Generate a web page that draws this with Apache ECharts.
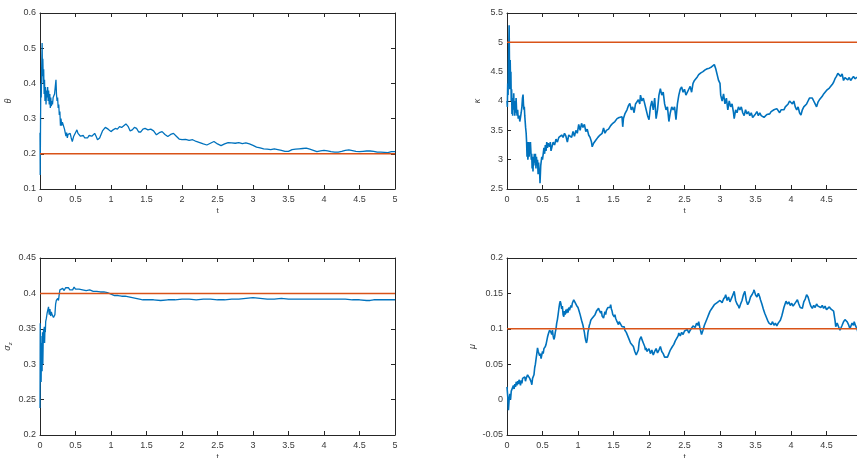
<!DOCTYPE html>
<html>
<head>
<meta charset="utf-8">
<script src="https://cdn.jsdelivr.net/npm/echarts@6/dist/echarts.min.js"></script>
<style>
html,body{margin:0;padding:0;background:#fff;}
#chart{width:857px;height:458px;}
</style>
</head>
<body>
<div id="chart"></div>
<script>
// ---- Data ----
const xTicks = [0,0.5,1,1.5,2,2.5,3,3.5,4,4.5,5];

const thetaTrue = 0.2;
const thetaData = [[0,0.26],[0.003,0.14],[0.008,0.3],[0.012,0.4],[0.018,0.36],[0.024,0.45],[0.03,0.515],[0.035,0.42],[0.04,0.47],[0.047,0.40],[0.052,0.44],[0.058,0.37],[0.064,0.41],[0.07,0.35],[0.078,0.39],[0.085,0.34],[0.092,0.38],[0.1,0.36],[0.108,0.39],[0.115,0.35],[0.122,0.38],[0.13,0.34],[0.138,0.37],[0.145,0.33],[0.152,0.36],[0.16,0.335],[0.168,0.35],[0.176,0.34],[0.185,0.36],[0.195,0.355],[0.205,0.37],[0.215,0.39],[0.225,0.41],[0.232,0.37],[0.24,0.35],[0.248,0.36],[0.256,0.33],[0.264,0.34],[0.272,0.31],[0.28,0.32],[0.288,0.28],[0.296,0.30],[0.305,0.28],[0.315,0.29],[0.325,0.285],[0.335,0.295],[0.345,0.27],[0.355,0.26],[0.365,0.25],[0.375,0.26],[0.385,0.245],[0.395,0.255],[0.41,0.25],[0.425,0.258],[0.44,0.245],[0.455,0.235],[0.465,0.23],[0.475,0.25],[0.49,0.255],[0.505,0.262],[0.52,0.268],[0.535,0.258],[0.55,0.262],[0.57,0.25],[0.59,0.245],[0.61,0.252],[0.63,0.245],[0.65,0.25],[0.67,0.245],[0.69,0.252],[0.71,0.248],[0.73,0.25],[0.75,0.255],[0.77,0.258],[0.79,0.25],[0.81,0.24],[0.825,0.236],[0.84,0.245],[0.86,0.255],[0.88,0.265],[0.9,0.27],[0.92,0.275],[0.94,0.277],[0.96,0.27],[0.98,0.265],[1.0,0.263],[1.03,0.268],[1.06,0.272],[1.09,0.27],[1.12,0.277],[1.15,0.275],[1.18,0.28],[1.21,0.285],[1.24,0.278],[1.27,0.265],[1.3,0.268],[1.33,0.275],[1.36,0.272],[1.39,0.262],[1.42,0.262],[1.45,0.27],[1.48,0.272],[1.52,0.268],[1.56,0.27],[1.6,0.265],[1.64,0.254],[1.68,0.26],[1.72,0.263],[1.76,0.255],[1.8,0.249],[1.84,0.255],[1.88,0.258],[1.92,0.25],[1.96,0.242],[2.0,0.24],[2.05,0.241],[2.1,0.238],[2.15,0.24],[2.2,0.235],[2.25,0.232],[2.3,0.228],[2.35,0.225],[2.4,0.23],[2.45,0.235],[2.5,0.228],[2.55,0.223],[2.6,0.228],[2.65,0.232],[2.7,0.231],[2.75,0.23],[2.8,0.232],[2.85,0.229],[2.9,0.231],[2.95,0.228],[3.0,0.224],[3.05,0.219],[3.1,0.217],[3.15,0.214],[3.2,0.213],[3.25,0.212],[3.3,0.214],[3.35,0.212],[3.4,0.21],[3.45,0.207],[3.5,0.207],[3.55,0.212],[3.6,0.213],[3.65,0.214],[3.7,0.215],[3.75,0.216],[3.8,0.213],[3.85,0.21],[3.9,0.206],[3.95,0.208],[4.0,0.21],[4.05,0.208],[4.1,0.206],[4.15,0.205],[4.2,0.205],[4.25,0.207],[4.3,0.21],[4.35,0.211],[4.4,0.209],[4.45,0.207],[4.5,0.206],[4.55,0.207],[4.6,0.208],[4.65,0.208],[4.7,0.207],[4.75,0.205],[4.8,0.205],[4.85,0.204],[4.9,0.203],[4.95,0.206],[5.0,0.206]];

const kappaTrue = 5;
const kappaData = [[0,4.0],[0.005,3.9],[0.01,4.3],[0.015,4.1],[0.02,4.6],[0.025,4.9],[0.03,5.29],[0.035,4.6],[0.04,4.2],[0.045,4.7],[0.05,4.3],[0.055,4.5],[0.06,4.0],[0.065,4.2],[0.07,3.78],[0.075,3.95],[0.08,3.75],[0.085,4.05],[0.09,3.9],[0.095,4.13],[0.1,3.85],[0.105,4.0],[0.11,3.75],[0.115,3.95],[0.12,3.8],[0.128,4.05],[0.135,3.85],[0.142,3.75],[0.15,3.85],[0.158,3.7],[0.165,3.68],[0.172,3.75],[0.18,3.65],[0.19,3.72],[0.2,3.8],[0.21,3.9],[0.218,4.05],[0.226,4.11],[0.232,3.95],[0.238,3.85],[0.244,3.9],[0.25,3.75],[0.256,3.78],[0.262,3.55],[0.27,3.45],[0.276,3.3],[0.282,3.05],[0.288,3.3],[0.294,3.0],[0.3,3.1],[0.306,3.3],[0.312,3.05],[0.318,3.25],[0.324,3.1],[0.33,3.3],[0.336,3.15],[0.342,3.0],[0.348,3.1],[0.354,2.85],[0.36,3.05],[0.366,2.8],[0.372,3.0],[0.378,2.9],[0.385,3.1],[0.392,2.95],[0.4,3.1],[0.408,2.85],[0.415,3.05],[0.422,2.9],[0.43,3.0],[0.438,2.75],[0.445,2.95],[0.452,2.8],[0.458,2.85],[0.465,2.6],[0.47,2.57],[0.475,2.9],[0.48,2.95],[0.49,3.05],[0.5,3.0],[0.51,3.1],[0.52,3.2],[0.53,3.1],[0.54,3.25],[0.55,3.15],[0.56,3.3],[0.57,3.2],[0.58,3.28],[0.59,3.3],[0.6,3.22],[0.61,3.3],[0.62,3.15],[0.63,3.2],[0.65,3.3],[0.67,3.25],[0.69,3.35],[0.71,3.3],[0.73,3.38],[0.75,3.35],[0.77,3.42],[0.79,3.38],[0.81,3.45],[0.83,3.4],[0.85,3.3],[0.87,3.42],[0.89,3.45],[0.91,3.38],[0.93,3.48],[0.95,3.4],[0.97,3.5],[0.99,3.45],[1.01,3.6],[1.03,3.5],[1.05,3.62],[1.07,3.55],[1.09,3.6],[1.11,3.48],[1.13,3.52],[1.15,3.42],[1.17,3.38],[1.19,3.3],[1.2,3.22],[1.22,3.28],[1.25,3.33],[1.28,3.38],[1.31,3.42],[1.34,3.45],[1.36,3.54],[1.38,3.45],[1.4,3.5],[1.43,3.52],[1.46,3.58],[1.49,3.62],[1.52,3.65],[1.55,3.7],[1.58,3.72],[1.6,3.75],[1.62,3.73],[1.63,3.56],[1.64,3.7],[1.66,3.78],[1.69,3.85],[1.71,3.92],[1.73,3.96],[1.75,3.85],[1.77,3.9],[1.79,3.8],[1.81,3.95],[1.83,3.92],[1.85,4.02],[1.87,3.95],[1.88,4.1],[1.9,4.0],[1.92,4.05],[1.94,3.95],[1.96,3.85],[1.98,3.75],[2.0,3.68],[2.02,3.9],[2.04,4.0],[2.06,3.85],[2.08,4.05],[2.1,3.7],[2.12,3.85],[2.14,4.1],[2.16,4.21],[2.18,4.1],[2.2,4.15],[2.22,3.95],[2.24,3.85],[2.26,3.9],[2.28,3.65],[2.3,3.8],[2.32,3.9],[2.34,3.85],[2.36,3.9],[2.38,3.68],[2.4,3.95],[2.42,4.1],[2.44,4.2],[2.46,4.24],[2.48,4.15],[2.5,4.2],[2.52,4.1],[2.54,4.07],[2.56,4.2],[2.58,4.25],[2.6,4.15],[2.62,4.3],[2.64,4.35],[2.66,4.38],[2.68,4.41],[2.7,4.45],[2.73,4.48],[2.76,4.5],[2.79,4.53],[2.82,4.55],[2.85,4.56],[2.88,4.58],[2.9,4.55],[2.92,4.62],[2.94,4.55],[2.96,4.45],[2.98,4.35],[3.0,4.3],[3.01,4.1],[3.03,4.0],[3.05,4.12],[3.07,3.95],[3.09,4.05],[3.11,3.85],[3.13,4.0],[3.15,3.9],[3.17,3.95],[3.19,3.8],[3.2,3.7],[3.22,3.85],[3.24,3.8],[3.26,3.9],[3.28,3.85],[3.3,3.9],[3.32,3.8],[3.34,3.75],[3.36,3.85],[3.38,3.78],[3.4,3.82],[3.42,3.75],[3.44,3.8],[3.46,3.72],[3.48,3.7],[3.5,3.78],[3.52,3.82],[3.54,3.75],[3.56,3.8],[3.58,3.75],[3.6,3.73],[3.62,3.72],[3.64,3.75],[3.66,3.77],[3.68,3.8],[3.7,3.78],[3.72,3.82],[3.74,3.8],[3.76,3.85],[3.78,3.82],[3.8,3.87],[3.82,3.85],[3.84,3.8],[3.86,3.85],[3.88,3.88],[3.9,3.85],[3.92,3.9],[3.94,3.88],[3.96,3.95],[3.98,4.0],[4.0,4.02],[4.02,3.95],[4.04,4.0],[4.06,3.9],[4.08,3.85],[4.1,3.9],[4.12,3.8],[4.14,3.76],[4.16,3.85],[4.18,3.9],[4.2,3.92],[4.22,3.95],[4.24,4.0],[4.26,4.05],[4.28,4.08],[4.3,4.05],[4.32,4.0],[4.34,3.95],[4.36,3.9],[4.38,3.98],[4.4,4.02],[4.42,4.05],[4.44,4.08],[4.46,4.12],[4.48,4.15],[4.5,4.18],[4.52,4.2],[4.54,4.22],[4.56,4.25],[4.58,4.28],[4.6,4.32],[4.62,4.38],[4.64,4.42],[4.66,4.47],[4.68,4.45],[4.7,4.42],[4.72,4.46],[4.74,4.35],[4.76,4.4],[4.78,4.38],[4.8,4.36],[4.82,4.4],[4.84,4.35],[4.86,4.38],[4.88,4.42],[4.9,4.38],[4.92,4.4],[4.94,4.41],[4.96,4.36],[4.98,4.4],[5.0,4.42]];

const sigmaTrue = 0.4;
const sigmaData = [[0,0.238],[0.003,0.358],[0.008,0.30],[0.012,0.34],[0.016,0.275],[0.02,0.31],[0.025,0.33],[0.03,0.29],[0.035,0.345],[0.04,0.30],[0.045,0.33],[0.05,0.35],[0.055,0.33],[0.06,0.353],[0.065,0.33],[0.07,0.35],[0.075,0.345],[0.08,0.36],[0.09,0.365],[0.1,0.372],[0.11,0.37],[0.12,0.381],[0.13,0.37],[0.14,0.378],[0.15,0.368],[0.16,0.374],[0.17,0.37],[0.18,0.372],[0.19,0.366],[0.2,0.365],[0.21,0.37],[0.22,0.385],[0.23,0.39],[0.24,0.388],[0.25,0.393],[0.26,0.39],[0.27,0.398],[0.28,0.405],[0.3,0.403],[0.32,0.407],[0.34,0.404],[0.36,0.408],[0.38,0.406],[0.4,0.408],[0.42,0.405],[0.44,0.407],[0.46,0.405],[0.48,0.409],[0.5,0.406],[0.55,0.406],[0.6,0.405],[0.65,0.404],[0.7,0.405],[0.75,0.403],[0.8,0.403],[0.85,0.402],[0.9,0.402],[0.95,0.401],[1.0,0.399],[1.05,0.397],[1.1,0.397],[1.15,0.396],[1.2,0.396],[1.25,0.395],[1.3,0.394],[1.35,0.393],[1.4,0.392],[1.45,0.391],[1.5,0.391],[1.6,0.391],[1.7,0.39],[1.8,0.391],[1.9,0.391],[2.0,0.392],[2.1,0.392],[2.2,0.391],[2.3,0.392],[2.4,0.392],[2.5,0.391],[2.6,0.391],[2.7,0.392],[2.8,0.392],[2.9,0.393],[3.0,0.394],[3.1,0.393],[3.2,0.392],[3.3,0.392],[3.4,0.393],[3.5,0.392],[3.6,0.392],[3.7,0.392],[3.8,0.392],[3.9,0.392],[4.0,0.392],[4.1,0.392],[4.2,0.392],[4.3,0.392],[4.4,0.391],[4.5,0.391],[4.6,0.39],[4.65,0.39],[4.7,0.391],[4.8,0.391],[4.9,0.391],[5.0,0.391]];

const muTrue = 0.1;
const muData = [[0,0.018],[0.01,0.005],[0.02,-0.015],[0.03,0.0],[0.04,0.008],[0.05,0.0],[0.06,0.012],[0.07,0.014],[0.08,0.01],[0.09,0.02],[0.1,0.015],[0.11,0.022],[0.12,0.018],[0.13,0.025],[0.14,0.02],[0.15,0.026],[0.16,0.022],[0.17,0.028],[0.18,0.025],[0.19,0.02],[0.2,0.027],[0.21,0.023],[0.22,0.03],[0.235,0.028],[0.25,0.032],[0.26,0.026],[0.27,0.03],[0.28,0.028],[0.29,0.035],[0.3,0.033],[0.31,0.037],[0.32,0.03],[0.33,0.032],[0.34,0.025],[0.35,0.021],[0.36,0.03],[0.37,0.028],[0.38,0.035],[0.39,0.045],[0.4,0.05],[0.41,0.058],[0.42,0.065],[0.43,0.073],[0.44,0.068],[0.45,0.07],[0.46,0.062],[0.47,0.065],[0.48,0.058],[0.49,0.06],[0.5,0.068],[0.51,0.065],[0.52,0.072],[0.53,0.07],[0.54,0.075],[0.55,0.078],[0.56,0.08],[0.57,0.088],[0.58,0.092],[0.59,0.095],[0.6,0.098],[0.61,0.1],[0.62,0.095],[0.63,0.092],[0.64,0.098],[0.65,0.09],[0.66,0.085],[0.67,0.088],[0.68,0.095],[0.69,0.1],[0.7,0.108],[0.71,0.113],[0.72,0.12],[0.73,0.128],[0.74,0.135],[0.75,0.139],[0.76,0.135],[0.77,0.128],[0.78,0.132],[0.79,0.12],[0.8,0.117],[0.81,0.125],[0.82,0.12],[0.83,0.127],[0.84,0.122],[0.85,0.128],[0.86,0.123],[0.87,0.13],[0.88,0.126],[0.89,0.127],[0.9,0.133],[0.91,0.13],[0.92,0.136],[0.93,0.138],[0.94,0.141],[0.95,0.14],[0.96,0.137],[0.97,0.138],[0.98,0.133],[0.99,0.135],[1.0,0.13],[1.01,0.127],[1.02,0.125],[1.03,0.12],[1.04,0.118],[1.05,0.112],[1.06,0.11],[1.07,0.105],[1.08,0.103],[1.09,0.095],[1.1,0.088],[1.11,0.083],[1.12,0.08],[1.13,0.085],[1.14,0.095],[1.15,0.1],[1.16,0.105],[1.17,0.108],[1.18,0.112],[1.19,0.11],[1.2,0.115],[1.21,0.113],[1.22,0.117],[1.24,0.12],[1.26,0.125],[1.28,0.127],[1.29,0.129],[1.3,0.126],[1.31,0.128],[1.32,0.122],[1.33,0.125],[1.34,0.118],[1.35,0.12],[1.36,0.115],[1.37,0.12],[1.38,0.124],[1.39,0.12],[1.4,0.126],[1.41,0.125],[1.42,0.13],[1.43,0.128],[1.44,0.132],[1.45,0.13],[1.46,0.134],[1.47,0.128],[1.48,0.125],[1.49,0.12],[1.5,0.122],[1.51,0.117],[1.52,0.12],[1.53,0.115],[1.54,0.113],[1.55,0.11],[1.56,0.112],[1.57,0.106],[1.58,0.11],[1.6,0.108],[1.62,0.103],[1.64,0.105],[1.65,0.103],[1.66,0.098],[1.68,0.095],[1.7,0.09],[1.72,0.085],[1.74,0.08],[1.76,0.078],[1.78,0.075],[1.8,0.068],[1.82,0.063],[1.83,0.061],[1.84,0.065],[1.85,0.07],[1.86,0.08],[1.87,0.085],[1.88,0.087],[1.89,0.089],[1.9,0.085],[1.91,0.087],[1.92,0.08],[1.93,0.082],[1.94,0.075],[1.95,0.07],[1.96,0.073],[1.97,0.068],[1.98,0.07],[1.99,0.066],[2.0,0.072],[2.02,0.065],[2.04,0.07],[2.06,0.063],[2.07,0.063],[2.08,0.068],[2.1,0.072],[2.12,0.066],[2.14,0.07],[2.16,0.075],[2.18,0.068],[2.2,0.065],[2.22,0.06],[2.23,0.058],[2.24,0.062],[2.26,0.06],[2.28,0.065],[2.3,0.07],[2.32,0.068],[2.33,0.075],[2.35,0.078],[2.37,0.083],[2.39,0.085],[2.41,0.09],[2.42,0.094],[2.44,0.09],[2.46,0.095],[2.48,0.092],[2.5,0.097],[2.52,0.095],[2.54,0.099],[2.56,0.094],[2.58,0.098],[2.6,0.1],[2.62,0.104],[2.63,0.106],[2.65,0.102],[2.67,0.108],[2.69,0.105],[2.7,0.11],[2.72,0.1],[2.74,0.092],[2.76,0.098],[2.78,0.105],[2.8,0.11],[2.82,0.115],[2.84,0.12],[2.86,0.125],[2.88,0.128],[2.9,0.13],[2.92,0.134],[2.94,0.132],[2.96,0.137],[2.98,0.135],[3.0,0.14],[3.01,0.141],[3.03,0.137],[3.05,0.142],[3.07,0.145],[3.08,0.148],[3.1,0.14],[3.12,0.145],[3.14,0.138],[3.15,0.136],[3.17,0.145],[3.19,0.15],[3.2,0.153],[3.22,0.14],[3.24,0.135],[3.26,0.132],[3.27,0.129],[3.29,0.135],[3.31,0.14],[3.33,0.148],[3.35,0.153],[3.37,0.14],[3.39,0.134],[3.41,0.138],[3.43,0.145],[3.45,0.148],[3.47,0.152],[3.48,0.155],[3.5,0.148],[3.52,0.145],[3.54,0.15],[3.56,0.145],[3.57,0.141],[3.59,0.135],[3.61,0.128],[3.63,0.122],[3.65,0.117],[3.67,0.112],[3.69,0.108],[3.71,0.11],[3.72,0.106],[3.74,0.11],[3.76,0.105],[3.78,0.108],[3.8,0.104],[3.82,0.108],[3.83,0.106],[3.85,0.112],[3.87,0.118],[3.88,0.122],[3.9,0.13],[3.92,0.136],[3.93,0.139],[3.95,0.135],[3.97,0.138],[3.99,0.133],[4.01,0.136],[4.03,0.132],[4.05,0.134],[4.07,0.138],[4.09,0.141],[4.11,0.135],[4.13,0.13],[4.15,0.132],[4.16,0.129],[4.18,0.138],[4.2,0.142],[4.22,0.148],[4.24,0.145],[4.26,0.138],[4.28,0.132],[4.3,0.129],[4.32,0.133],[4.34,0.13],[4.36,0.135],[4.38,0.132],[4.4,0.134],[4.42,0.13],[4.44,0.133],[4.46,0.129],[4.48,0.132],[4.5,0.127],[4.52,0.129],[4.54,0.131],[4.56,0.128],[4.58,0.13],[4.6,0.125],[4.61,0.127],[4.62,0.112],[4.63,0.103],[4.65,0.108],[4.67,0.103],[4.69,0.098],[4.7,0.099],[4.72,0.105],[4.74,0.11],[4.76,0.113],[4.77,0.115],[4.79,0.11],[4.81,0.106],[4.83,0.1],[4.84,0.103],[4.86,0.108],[4.88,0.105],[4.89,0.11],[4.91,0.104],[4.93,0.1],[4.94,0.096],[4.96,0.1],[4.98,0.095],[5.0,0.094]];

// ---- Chart construction ----
const FONT = '"Liberation Sans", Arial, Helvetica, sans-serif';
const AX = '#262626';
const LBL = '#3a3a3a';
const BLUE = '#0072BD';
const ORANGE = '#D95319';

const panels = [
  {grid:{left:40, top:13, width:355, height:176}, yMin:0.1, yMax:0.6, yInt:0.1, yName:'θ', yGap:27, data:thetaData, truth:thetaTrue, lw:1.3},
  {grid:{left:507, top:13, width:355, height:176}, yMin:2.5, yMax:5.5, yInt:0.5, yName:'κ', yGap:25, data:kappaData, truth:kappaTrue, lw:1.6},
  {grid:{left:40, top:258, width:355, height:177}, yMin:0.2, yMax:0.45, yInt:0.05, yName:'{s|σ}{z|z}', yGap:27, data:sigmaData, truth:sigmaTrue, lw:1.3},
  {grid:{left:507, top:258, width:355, height:177}, yMin:-0.05, yMax:0.2, yInt:0.05, yName:'μ', yGap:30, data:muData, truth:muTrue, lw:1.6}
];

const grid = [], xAxis = [], yAxis = [], series = [];
const fmt = v => String(parseFloat(v.toFixed(3)));

panels.forEach((p, i) => {
  grid.push(Object.assign({show:false, containLabel:false, outerBoundsMode:'none'}, p.grid));
  const common = {
    type:'value', gridIndex:i, splitLine:{show:false},
    axisLine:{show:true, onZero:false, lineStyle:{color:AX, width:1}},
    axisTick:{show:true, inside:true, length:4, lineStyle:{color:AX, width:1}}
  };
  xAxis.push(Object.assign({}, common, {
    position:'bottom', min:xTicks[0], max:xTicks[xTicks.length-1], interval:0.5,
    axisLabel:{show:true, color:LBL, fontSize:9, fontFamily:FONT, margin:6, formatter:fmt, hideOverlap:false, showMaxLabel:true, showMinLabel:true},
    name:'t', nameLocation:'middle', nameGap:18, nameTextStyle:{color:LBL, fontSize:8, fontFamily:FONT}
  }));
  xAxis.push(Object.assign({}, common, {
    position:'top', min:xTicks[0], max:xTicks[xTicks.length-1], interval:0.5, axisLabel:{show:false}
  }));
  yAxis.push(Object.assign({}, common, {
    position:'left', min:p.yMin, max:p.yMax, interval:p.yInt,
    axisLabel:{show:true, color:LBL, fontSize:9, fontFamily:FONT, margin:4, formatter:fmt, showMaxLabel:true, showMinLabel:true},
    name:p.yName, nameLocation:'middle', nameGap:p.yGap, nameRotate:90,
    nameTextStyle:{color:LBL, fontSize:9, fontFamily:FONT, fontStyle:'italic',
      rich:{s:{fontSize:9, fontStyle:'italic', fontFamily:FONT, color:LBL}, z:{fontSize:6, fontFamily:FONT, color:LBL, verticalAlign:'bottom', padding:[5,0,0,0]}}}
  }));
  yAxis.push(Object.assign({}, common, {
    position:'right', min:p.yMin, max:p.yMax, interval:p.yInt, axisLabel:{show:false}
  }));

  series.push({
    type:'line', xAxisIndex:2*i, yAxisIndex:2*i, data:p.data,
    showSymbol:false, symbol:'none', smooth:false, clip:true,
    lineStyle:{color:BLUE, width:p.lw}, z:3
  });
  series.push({
    type:'line', xAxisIndex:2*i, yAxisIndex:2*i,
    data:[[xTicks[0], p.truth],[xTicks[xTicks.length-1], p.truth]],
    showSymbol:false, symbol:'none', clip:true,
    lineStyle:{color:ORANGE, width:1.5}, z:4
  });
});

const chart = echarts.init(document.getElementById('chart'), null, {renderer:'canvas'});
chart.setOption({
  animation:false,
  backgroundColor:'#ffffff',
  grid, xAxis, yAxis, series
});
</script>
</body>
</html>
